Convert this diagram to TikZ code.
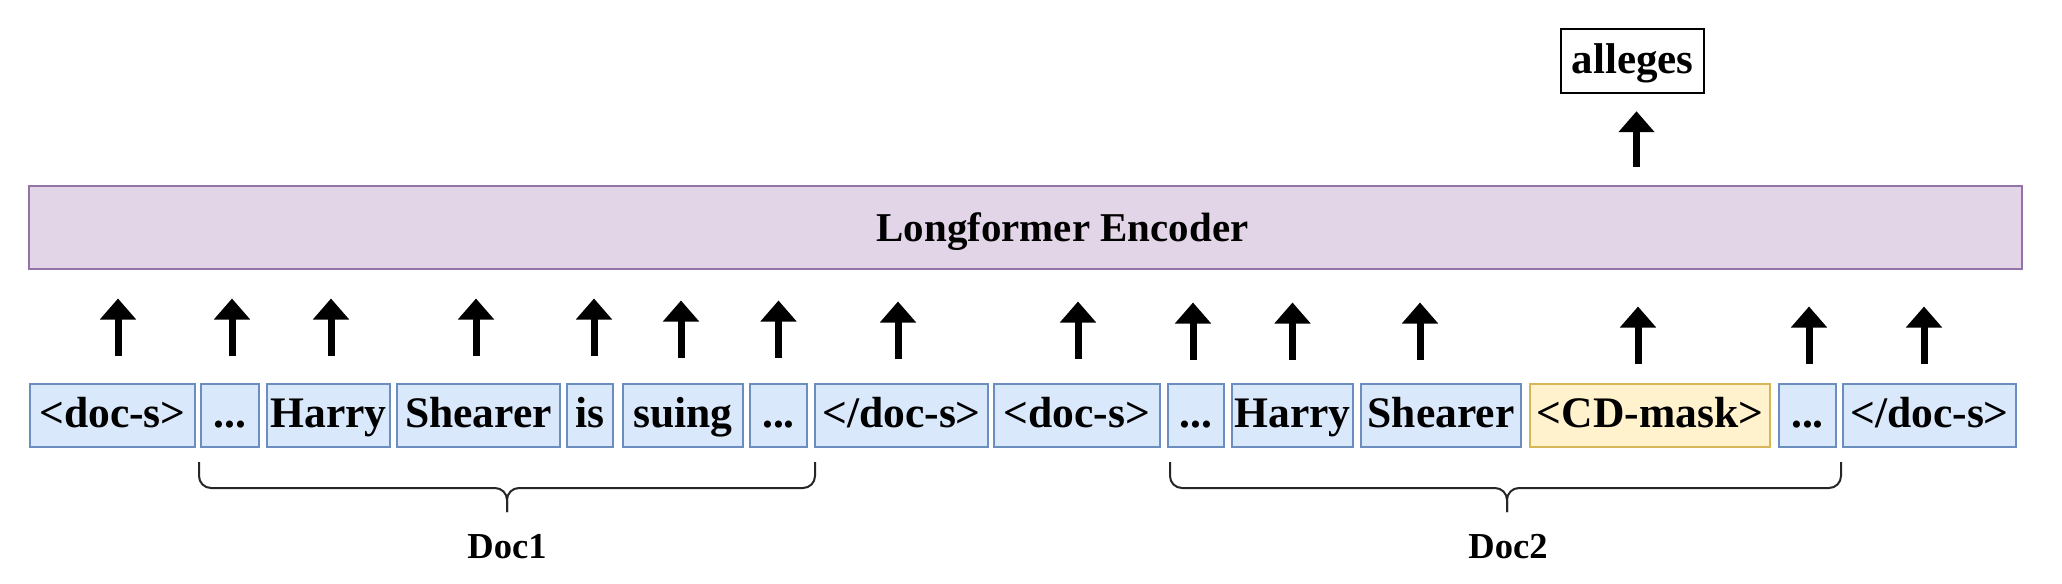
\documentclass[tikz,border=0pt]{standalone}
\usepackage{fontspec}
\setmainfont{Liberation Serif}
\usepackage{xcolor}
\usepackage{tikz}
\usetikzlibrary{arrows.meta,calc}
\definecolor{tokfill}{HTML}{DAE8FC}
\definecolor{tokdraw}{HTML}{6C8EBF}
\definecolor{maskfill}{HTML}{FFF2CC}
\definecolor{maskdraw}{HTML}{D6B656}
\definecolor{encfill}{HTML}{E1D5E7}
\definecolor{encdraw}{HTML}{9673A6}
\tikzset{
  token/.style={rectangle, draw=tokdraw, fill=tokfill, line width=0.04cm, minimum height=1.26cm, inner xsep=1pt, inner ysep=1pt, text height=0.64cm, text depth=0.16cm, align=center, font=\bfseries\fontsize{24.8}{28}\selectfont},
  masktoken/.style={token, draw=maskdraw, fill=maskfill},
  encoder/.style={rectangle, draw=encdraw, fill=encfill, line width=0.05cm, minimum width=39.86cm, minimum height=1.66cm},
  enclabel/.style={xshift=0.74cm, inner sep=0pt, text height=0.76cm, text depth=0.18cm, font=\bfseries\fontsize{23.3}{27}\selectfont},
  outword/.style={rectangle, draw=black, fill=white, line width=0.05cm, minimum width=2.86cm, minimum height=1.28cm, inner sep=1pt, text height=0.66cm, text depth=0.14cm, font=\bfseries\fontsize{24.5}{28}\selectfont},
  uparrow/.style={line width=0.14cm, -{Triangle[width=0.7cm,length=0.42cm]}},
  bracket/.style={line width=0.04cm, draw=black!85, rounded corners=0.24cm},
  doclabel/.style={inner sep=0pt, font=\bfseries\fontsize{20.8}{24}\selectfont},
}
\begin{document}
\begin{tikzpicture}[x=0.02cm, y=-0.02cm]
  \useasboundingbox (0,0) rectangle (2062,584);
  % encoder and prediction
  \node[encoder, label={[enclabel]center:Longformer Encoder}] (enc) at (1025.5,227.5) {};
  \node[outword] (out) at (1632.5,61) {alleges};
  % input tokens
  \node[token, minimum width=3.30cm] (t1) at (112.5,415.5) {<doc-s>};
  \node[token, minimum width=1.16cm] (t2) at (230,415.5) {...};
  \node[token, minimum width=2.46cm] (t3) at (328.5,415.5) {Harry};
  \node[token, minimum width=3.26cm] (t4) at (478.5,415.5) {Shearer};
  \node[token, minimum width=0.92cm] (t5) at (590,415.5) {is};
  \node[token, minimum width=2.40cm] (t6) at (683,415.5) {suing};
  \node[token, minimum width=1.14cm] (t7) at (778.5,415.5) {...};
  \node[token, minimum width=3.46cm] (t8) at (901.5,415.5) {</doc-s>};
  \node[token, minimum width=3.32cm] (t9) at (1077,415.5) {<doc-s>};
  \node[token, minimum width=1.12cm] (t10) at (1196,415.5) {...};
  \node[token, minimum width=2.42cm] (t11) at (1292.5,415.5) {Harry};
  \node[token, minimum width=3.20cm] (t12) at (1441,415.5) {Shearer};
  \node[masktoken, minimum width=4.80cm] (t13) at (1650,415.5) {<CD-mask>};
  \node[token, minimum width=1.14cm] (t14) at (1807.5,415.5) {...};
  \node[token, minimum width=3.46cm] (t15) at (1929.5,415.5) {</doc-s>};
  % arrows into the encoder
  \foreach \t/\dx/\gap in {t1/5.5/27, t2/2/27, t3/2.5/27, t4/-2.5/27, t5/4/27,
      t6/-2/25, t7/0/25, t8/-3.5/24, t9/1/24, t10/-3/23, t11/0/23, t12/-21/23,
      t13/-12/19, t14/1.5/19, t15/-5.5/19}
    \draw[uparrow] ($(\t.north)+(\dx,-\gap)$) -- ++(0,-57.5);
  % arrow to the prediction
  \draw[uparrow, shorten <=0.36cm, shorten >=0.34cm] ($(enc.north -| out.south)+(4,0)$) -- ($(out.south)+(4,0)$);
  % document braces
  \draw[bracket] (199,462) -- (199,488) -- (507,488) -- (507,512);
  \draw[bracket] (815,462) -- (815,488) -- (507,488) -- (507,512);
  \draw[bracket] (1170,462) -- (1170,488) -- (1507,488) -- (1507,512);
  \draw[bracket] (1841,462) -- (1841,488) -- (1507,488) -- (1507,512);
  \node[doclabel] (doc1) at (507,547) {Doc1};
  \node[doclabel] (doc2) at (1508,547) {Doc2};
\end{tikzpicture}
\end{document}
